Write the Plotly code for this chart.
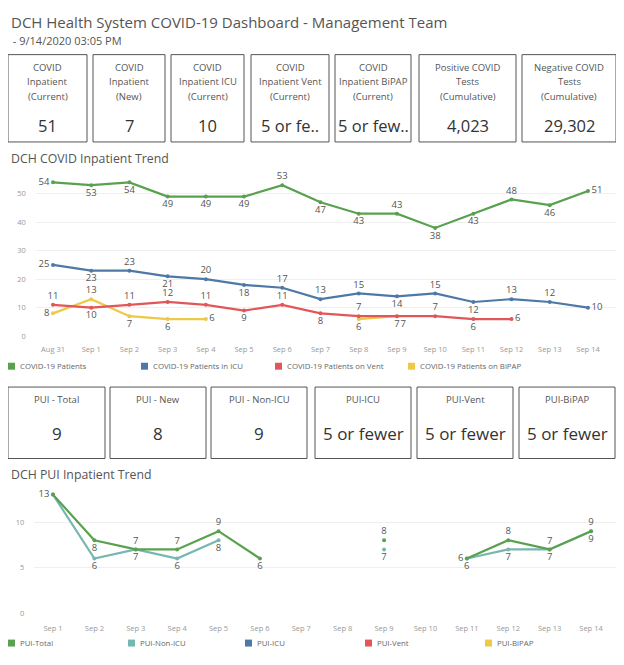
import plotly.graph_objects as go

# page is 624x665 with an 8px body margin, so the figure is 608x649
PAGE_OFF = 8
W, H = 608, 649
FONT = "Open Sans"

# ---------------- data ----------------
title_text = "DCH Health System COVID-19 Dashboard - Management Team"
subtitle_text = " - 9/14/2020 03:05 PM"

kpi1_labels = ["COVID<br>Inpatient<br>(Current)", "COVID<br>Inpatient<br>(New)",
               "COVID<br>Inpatient ICU<br>(Current)", "COVID<br>Inpatient Vent<br>(Current)",
               "COVID<br>Inpatient BiPAP<br>(Current)", "Positive COVID<br>Tests<br>(Cumulative)",
               "Negative COVID<br>Tests<br>(Cumulative)"]
kpi1_values = ["51", "7", "10", "5 or fe..", "5 or few..", "4,023", "29,302"]

kpi2_labels = ["PUI - Total", "PUI - New", "PUI - Non-ICU", "PUI-ICU", "PUI-Vent", "PUI-BiPAP"]
kpi2_values = ["9", "8", "9", "5 or fewer", "5 or fewer", "5 or fewer"]

dates1 = ["Aug 31", "Sep 1", "Sep 2", "Sep 3", "Sep 4", "Sep 5", "Sep 6", "Sep 7",
          "Sep 8", "Sep 9", "Sep 10", "Sep 11", "Sep 12", "Sep 13", "Sep 14"]
covid_patients = [54, 53, 54, 49, 49, 49, 53, 47, 43, 43, 38, 43, 48, 46, 51]
covid_icu = [25, 23, 23, 21, 20, 18, 17, 13, 15, 14, 15, 12, 13, 12, 10]
covid_vent = [11, 10, 11, 12, 11, 9, 11, 8, 7, 7, 7, 6, 6, None, None]
covid_bipap = [8, 13, 7, 6, 6, None, None, None, 6, 7, None, None, None, None, None]
series1_names = ["COVID-19 Patients", "COVID-19 Patients in ICU",
                 "COVID-19 Patients on Vent", "COVID-19 Patients on BiPAP"]

dates2 = ["Sep 1", "Sep 2", "Sep 3", "Sep 4", "Sep 5", "Sep 6", "Sep 7",
          "Sep 8", "Sep 9", "Sep 10", "Sep 11", "Sep 12", "Sep 13", "Sep 14"]
pui_total = [13, 8, 7, 7, 9, 6, None, None, 8, None, 6, 8, 7, 9]
pui_non_icu = [13, 6, 7, 6, 8, None, None, None, 7, None, 6, 7, 7, 9]
series2_names = ["PUI-Total", "PUI-Non-ICU", "PUI-ICU", "PUI-Vent", "PUI-BiPAP"]

# ---------------- styles ----------------
GREEN, BLUE, RED, YELLOW, TEAL = "#59A14F", "#4E79A7", "#E15759", "#EDC948", "#76B7B2"
colors1 = [GREEN, BLUE, RED, YELLOW]
colors2 = [GREEN, TEAL, BLUE, RED, YELLOW]

pos_green = ["middle left", "bottom center", "bottom center", "bottom center", "bottom center",
             "bottom center", "top center", "bottom center", "bottom center", "top center",
             "bottom center", "bottom center", "top center", "bottom center", "middle right"]
pos_blue = ["middle left", "bottom center", "top center", "bottom center", "top center",
            "bottom center", "top center", "top center", "top center", "bottom center",
            "top center", "bottom center", "top center", "top center", "middle right"]
pos_red = ["top center", "bottom center", "top center", "top center", "top center",
           "bottom center", "top center", "bottom center", "top center", "bottom center",
           "top center", "bottom center", "middle right", "top center", "top center"]
pos_yellow = ["middle left", "top center", "bottom center", "bottom center", "middle right",
              "top center", "top center", "top center", "bottom center", "bottom right",
              "top center", "top center", "top center", "top center", "top center"]

pos_total = ["middle left", "bottom center", "top center", "top center", "top center",
             "bottom center", "top center", "top center", "top center", "top center",
             "middle left", "top center", "top center", "top center"]
pos_non_icu = ["bottom center"] * 14
show_non_icu = [False] + [True] * 13


def px(x):
    return min(max((x - PAGE_OFF) / W, 0.0), 1.0)


def py(y):
    return min(max(1 - (y - PAGE_OFF) / H, 0.0), 1.0)


def labels(vals, mask=None):
    out = []
    for i, v in enumerate(vals):
        if v is None or (mask is not None and not mask[i]):
            out.append("")
        else:
            out.append(str(v))
    return out


fig = go.Figure()

LBL_FONT = dict(family=FONT, size=9.5, color="#555555")


def add_line(x, y, color, pos, xa, ya, text):
    fig.add_trace(go.Scatter(
        x=x, y=y, mode="lines+markers+text", text=text, textposition=pos,
        textfont=LBL_FONT, line=dict(color=color, width=2.2),
        marker=dict(color=color, size=4), xaxis=xa, yaxis=ya,
        showlegend=False, hoverinfo="skip", cliponaxis=False))


# chart 1 (drawn bottom to top so green is above)
add_line(dates1, covid_bipap, YELLOW, pos_yellow, "x", "y", labels(covid_bipap))
add_line(dates1, covid_vent, RED, pos_red, "x", "y", labels(covid_vent))
add_line(dates1, covid_icu, BLUE, pos_blue, "x", "y", labels(covid_icu))
add_line(dates1, covid_patients, GREEN, pos_green, "x", "y", labels(covid_patients))

# chart 2
add_line(dates2, pui_non_icu, TEAL, pos_non_icu, "x2", "y2", labels(pui_non_icu, show_non_icu))
add_line(dates2, pui_total, GREEN, pos_total, "x2", "y2", labels(pui_total))

TICK_FONT = dict(family=FONT, size=7.5, color="#999999")
GRID = "#EFEFEF"
RIGHT_EDGE = 616

# chart 1 axes: Aug 31 at px 53, Sep 14 at px 588
x0_1, sp1 = 53, 38.2
fig.update_layout(
    xaxis=dict(domain=[px(x0_1 - 0.45 * sp1), px(RIGHT_EDGE)],
               range=[-0.45, 14 + (RIGHT_EDGE - 588) / sp1],
               type="category", showgrid=False, zeroline=False, showline=False,
               tickfont=TICK_FONT, ticks="", anchor="y", ticklabelstandoff=7),
    yaxis=dict(domain=[py(338.7), py(338.7 - 58 * 2.87)], range=[0, 58],
               tickvals=[0, 10, 20, 30, 40, 50], showgrid=True, gridcolor=GRID,
               zeroline=False, showline=False, tickfont=TICK_FONT, ticks="",
               anchor="x", ticklabelstandoff=9),
)
# chart 2 axes: Sep 1 at px 53, Sep 14 at px 591
x0_2, sp2 = 53, 41.4
fig.update_layout(
    xaxis2=dict(domain=[px(x0_2 - 0.45 * sp2), px(RIGHT_EDGE)],
                range=[-0.45, 13 + (RIGHT_EDGE - 591) / sp2],
                type="category", showgrid=False, zeroline=False, showline=False,
                tickfont=TICK_FONT, ticks="", anchor="y2", ticklabelstandoff=9),
    yaxis2=dict(domain=[py(618), py(618 - 14 * 9.2)], range=[0, 14],
                tickvals=[0, 5, 10], showgrid=True, gridcolor=GRID,
                zeroline=False, showline=False, tickfont=TICK_FONT, ticks="",
                anchor="x2", ticklabelstandoff=9),
)

shapes = []
annotations = []


def text_at(x, y, txt, size, color="#555555", anchor="left"):
    annotations.append(dict(x=px(x), y=py(y), xref="paper", yref="paper", text=txt,
                            showarrow=False, xanchor=anchor, yanchor="middle",
                            font=dict(family=FONT, size=size, color=color)))


# title
text_at(9, 22, title_text, 15)
text_at(8, 41, subtitle_text, 11)

# KPI row 1
box1_x = [(8, 87), (93, 165), (171, 244), (251, 329), (335, 411), (419, 516), (522, 616)]
line_y = [68, 82.5, 97]
for (x0, x1), lab, val in zip(box1_x, kpi1_labels, kpi1_values):
    shapes.append(dict(type="rect", xref="paper", yref="paper", x0=px(x0), x1=px(x1),
                       y0=py(143), y1=py(55), line=dict(color="#555555", width=1)))
    cx = (x0 + x1) / 2
    for ly, part in zip(line_y, lab.split("<br>")):
        text_at(cx, ly, part, 9.5, anchor="center")
    text_at(cx, 126, val, 16.5, color="#333333", anchor="center")

# KPI row 2
box2_x = [(8, 105), (110, 206), (211, 307), (315, 411), (417, 513), (519, 615)]
for (x0, x1), lab, val in zip(box2_x, kpi2_labels, kpi2_values):
    shapes.append(dict(type="rect", xref="paper", yref="paper", x0=px(x0), x1=px(x1),
                       y0=py(462), y1=py(390), line=dict(color="#555555", width=1)))
    cx = (x0 + x1) / 2
    text_at(cx, 403, lab, 9.5, anchor="center")
    text_at(cx, 437, val, 17, color="#333333", anchor="center")

# chart titles
text_at(9, 160, "DCH COVID Inpatient Trend", 12.3)
text_at(9, 478, "DCH PUI Inpatient Trend", 12.3)


# legends
def legend_row(names, cols, xs, ycen):
    for n, c, x in zip(names, cols, xs):
        shapes.append(dict(type="rect", xref="paper", yref="paper",
                           x0=px(x), x1=px(x + 7), y0=py(ycen + 3.5), y1=py(ycen - 3.5),
                           fillcolor=c, line=dict(width=0)))
        text_at(x + 10, ycen, n, 7.8, color="#666666")


legend_row(series1_names, colors1, [8, 141, 275, 408], 369)
legend_row(series2_names, colors2, [8, 128, 245, 365, 485], 648)

fig.update_layout(width=W, height=H, margin=dict(l=0, r=0, t=0, b=0),
                  paper_bgcolor="white", plot_bgcolor="white",
                  shapes=shapes, annotations=annotations, showlegend=False,
                  font=dict(family=FONT))

fig.write_html("out.html")
